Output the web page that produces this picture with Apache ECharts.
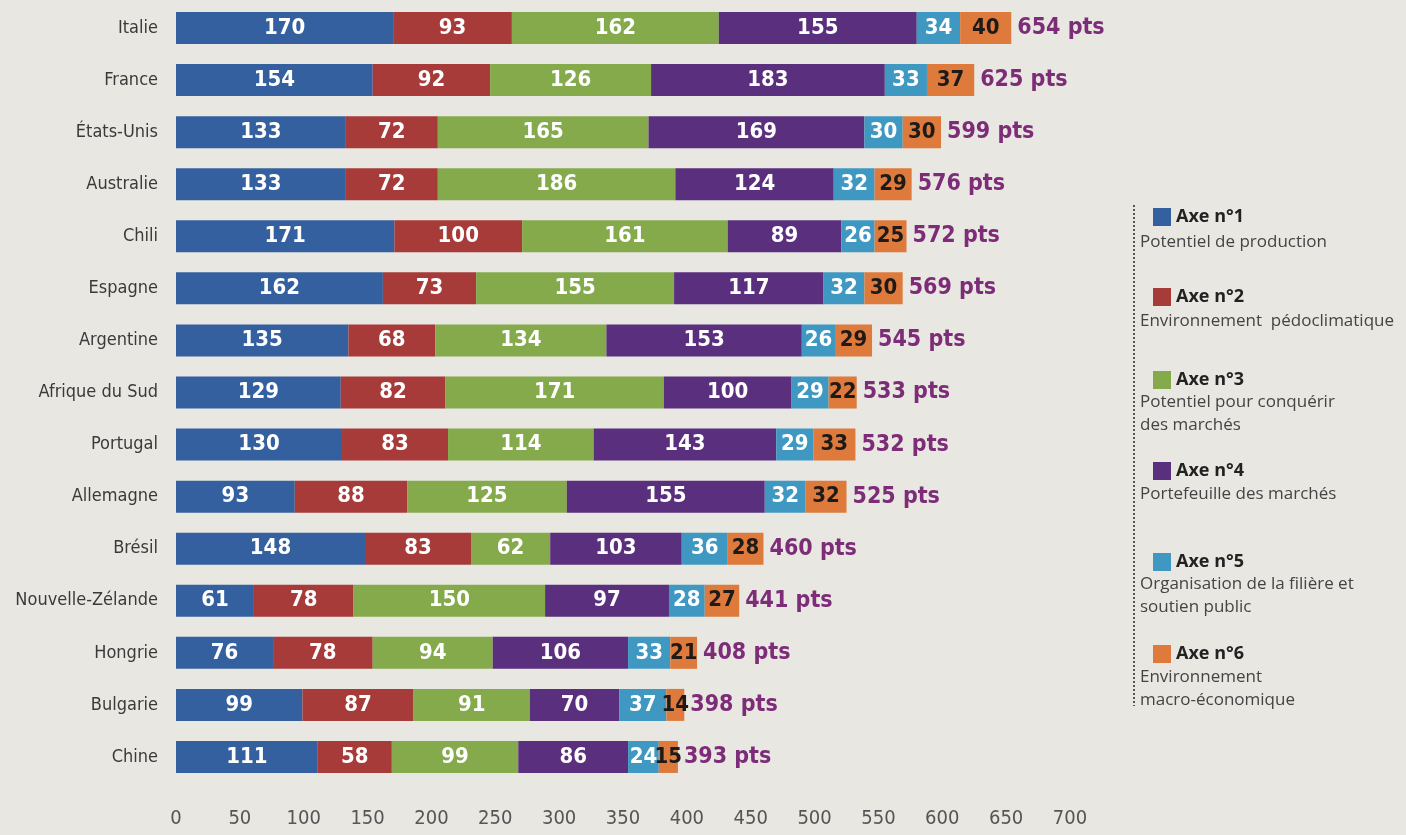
<!DOCTYPE html>
<html>
<head>
<meta charset="utf-8">
<script src="https://cdn.jsdelivr.net/npm/echarts@6/dist/echarts.min.js"></script>
<style>
  html, body { margin: 0; padding: 0; background: #e9e7e2; }
  #chart { width: 1406px; height: 835px; }
</style>
</head>
<body>
<div id="chart"></div>
<script>
// pays, du haut vers le bas
var pays = ['Italie', 'France', 'États-Unis', 'Australie', 'Chili', 'Espagne', 'Argentine',
    'Afrique du Sud', 'Portugal', 'Allemagne', 'Brésil', 'Nouvelle-Zélande', 'Hongrie', 'Bulgarie', 'Chine'];

var axe1 = [170, 154, 133, 133, 171, 162, 135, 129, 130, 93, 148, 61, 76, 99, 111];
var axe2 = [93, 92, 72, 72, 100, 73, 68, 82, 83, 88, 83, 78, 78, 87, 58];
var axe3 = [162, 126, 165, 186, 161, 155, 134, 171, 114, 125, 62, 150, 94, 91, 99];
var axe4 = [155, 183, 169, 124, 89, 117, 153, 100, 143, 155, 103, 97, 106, 70, 86];
var axe5 = [34, 33, 30, 32, 26, 32, 26, 29, 29, 32, 36, 28, 33, 37, 24];
var axe6 = [40, 37, 30, 29, 25, 30, 29, 22, 33, 32, 28, 27, 21, 14, 15];
var totaux = [654, 625, 599, 576, 572, 569, 545, 533, 532, 525, 460, 441, 408, 398, 393];

var axes = ['Axe n°1', 'Axe n°2', 'Axe n°3', 'Axe n°4', 'Axe n°5', 'Axe n°6'];
var descriptions = [
    'Potentiel de production',
    'Environnement  pédoclimatique',
    'Potentiel pour conquérir\ndes marchés',
    'Portefeuille des marchés',
    'Organisation de la filière et\nsoutien public',
    'Environnement\nmacro-économique'
];
var couleurs = ['#34609f', '#a63b3a', '#84aa4b', '#5a2f7d', '#3f98c2', '#de7b3c'];

var font = "'DejaVu Sans Condensed', 'Liberation Sans Narrow', 'Open Sans', sans-serif";

var chart = echarts.init(document.getElementById('chart'));

function barSerie(i, data) {
    return {
        name: axes[i],
        type: 'bar',
        stack: 'total',
        barWidth: 32,
        data: data,
        itemStyle: { color: couleurs[i] },
        label: {
            show: true,
            position: 'inside',
            color: i == 5 ? '#1e1a18' : '#ffffff',
            fontFamily: font,
            fontWeight: 'bold',
            fontSize: 22
        }
    };
}

var series = [
    barSerie(0, axe1), barSerie(1, axe2), barSerie(2, axe3),
    barSerie(3, axe4), barSerie(4, axe5), barSerie(5, axe6),
    {
        name: 'total',
        type: 'bar',
        stack: 'total',
        barWidth: 32,
        data: totaux.map(function () { return 0; }),
        itemStyle: { color: 'rgba(0,0,0,0)' },
        label: {
            show: true,
            position: 'right',
            distance: 6,
            formatter: function (p) { return totaux[p.dataIndex] + ' pts'; },
            color: '#7d2c78',
            fontFamily: font,
            fontWeight: 'bold',
            fontSize: 23
        }
    }
];

// une légende par axe, pour garder les espacements
var legendTops = [208, 288, 371, 462, 553, 645];
var legends = axes.map(function (a, i) {
    return {
        data: [a],
        left: 1153,
        top: legendTops[i],
        padding: 0,
        icon: 'rect',
        itemWidth: 18,
        itemHeight: 18,
        itemGap: 6,
        selectedMode: false,
        textStyle: { color: '#222', fontWeight: 'bold', fontSize: 18, fontFamily: "'Open Sans', sans-serif" }
    };
});

var descTops = [231, 310, 391, 483, 573, 666];
var graphics = descriptions.map(function (d, i) {
    return {
        type: 'text',
        left: 1140,
        top: descTops[i],
        style: {
            text: d,
            fill: '#444',
            fontSize: 17,
            lineHeight: 23,
            fontFamily: "'Open Sans', sans-serif"
        }
    };
});
graphics.push({
    type: 'line',
    shape: { x1: 1134, y1: 205, x2: 1134, y2: 706 },
    style: { stroke: '#555', lineWidth: 2, lineDash: [2, 2] }
});

option = {
    backgroundColor: '#e9e7e2',
    animation: false,
    grid: { left: 176, right: 336, top: 2, bottom: 52 },
    xAxis: {
        type: 'value',
        min: 0,
        max: 700,
        interval: 50,
        axisLine: { show: false },
        axisTick: { show: false },
        splitLine: { show: false },
        axisLabel: { color: '#555', fontSize: 20, margin: 26, fontFamily: font }
    },
    yAxis: {
        type: 'category',
        inverse: true,
        data: pays,
        axisLine: { show: false },
        axisTick: { show: false },
        axisLabel: { color: '#3a3a3a', fontSize: 18, margin: 18, fontFamily: font }
    },
    legend: legends,
    graphic: graphics,
    series: series
};
chart.setOption(option);
</script>
</body>
</html>
